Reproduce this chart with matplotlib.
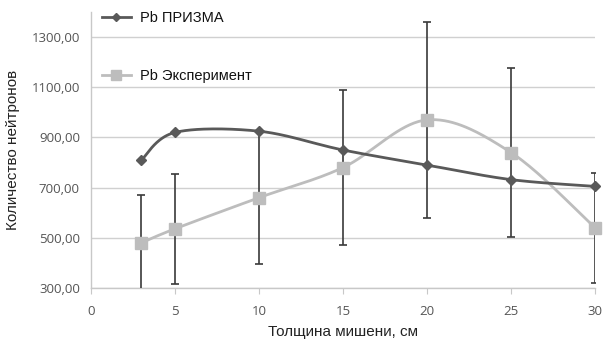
import numpy as np
import matplotlib
matplotlib.use("Agg")
import matplotlib.pyplot as plt
from matplotlib.lines import Line2D

# Data
thickness = [3, 5, 10, 15, 20, 25, 30]
prizma = [810, 920, 925, 850, 790, 732, 705]
experiment = [480, 536, 660, 780, 970, 840, 540]
exp_err = [190, 220, 265, 310, 390, 337, 220]
x_ticks = [0, 5, 10, 15, 20, 25, 30]
y_ticks = [300, 500, 700, 900, 1100, 1300]
y_tick_labels = ["300,00", "500,00", "700,00", "900,00", "1100,00", "1300,00"]
label_prizma = "Pb ПРИЗМА"
label_exp = "Pb Эксперимент"
xlabel = "Толщина мишени, см"
ylabel = "Количество нейтронов"

XMIN, XMAX, YMIN, YMAX = 0, 30, 300, 1400
SX, SY = 504.0 / (XMAX - XMIN), 276.0 / (YMAX - YMIN)


def smooth(xs, ys, n=40):
    # Excel-like smoothed line: cubic Bezier with Catmull-Rom style control points (in pixel space)
    P = np.column_stack([np.asarray(xs, float) * SX, np.asarray(ys, float) * SY])
    out = [P[0]]
    m = len(P)
    for i in range(m - 1):
        p0 = P[i - 1] if i > 0 else P[i]
        p1, p2 = P[i], P[i + 1]
        p3 = P[i + 2] if i + 2 < m else P[i + 1]
        c1 = p1 + (p2 - p0) / 6.0
        c2 = p2 - (p3 - p1) / 6.0
        t = np.linspace(0, 1, n)[1:, None]
        seg = (1 - t) ** 3 * p1 + 3 * (1 - t) ** 2 * t * c1 + 3 * (1 - t) * t ** 2 * c2 + t ** 3 * p2
        out.extend(seg)
    out = np.array(out)
    return out[:, 0] / SX, out[:, 1] / SY


DARK = "#595959"
LIGHT = "#BDBDBD"
ERR = "#3a3a3a"
GRID = "#D0D0D0"

fig = plt.figure(figsize=(6.08, 3.42), dpi=100)
ax = fig.add_axes([91 / 608, 1 - 288 / 342, 504 / 608, 276 / 342])

ax.set_xlim(XMIN, XMAX)
ax.set_ylim(YMIN, YMAX)
ax.set_yticks(y_ticks)
ax.set_yticklabels(y_tick_labels)
ax.set_xticks(x_ticks)
ax.grid(axis="y", color=GRID, linewidth=1.0)
ax.set_axisbelow(True)

for s in ["top", "right"]:
    ax.spines[s].set_visible(False)
for s in ["left", "bottom"]:
    ax.spines[s].set_color("#C8C8C8")
    ax.spines[s].set_linewidth(1.0)

ax.tick_params(axis="y", length=0, pad=8, labelsize=9.5, colors="#404040")
ax.tick_params(axis="x", length=4, pad=8, labelsize=9.5, colors="#404040", color="#C8C8C8", direction="out")
for lab in ax.get_xticklabels() + ax.get_yticklabels():
    lab.set_fontfamily("Open Sans")
    lab.set_color("#555555")

# Experiment smoothed line
sx, sy = smooth(thickness, experiment)
ax.plot(sx, sy, color=LIGHT, lw=2.0, zorder=3, clip_on=False)
# Prizma smoothed line
px, py = smooth(thickness, prizma)
ax.plot(px, py, color=DARK, lw=2.0, zorder=4, clip_on=False)

# Error bars (experiment)
ax.errorbar(thickness, experiment, yerr=exp_err, fmt="none", ecolor=ERR,
            elinewidth=1.2, capsize=3, capthick=1.2, zorder=5)

ax.plot(thickness, experiment, linestyle="none", marker="s", markersize=8,
        color=LIGHT, zorder=6, clip_on=False)
ax.plot(thickness, prizma, linestyle="none", marker="D", markersize=5,
        color=DARK, zorder=7, clip_on=False)

ax.set_xlabel(xlabel, fontsize=11, family="Liberation Sans", labelpad=5, color="#222222")
ax.set_ylabel(ylabel, fontsize=11, family="Liberation Sans", labelpad=8, color="#222222")

h1 = Line2D([], [], color=DARK, lw=2, marker="D", markersize=4)
h2 = Line2D([], [], color=LIGHT, lw=2, marker="s", markersize=7)
leg = ax.legend([h1, h2], [label_prizma, label_exp], loc="upper left",
                bbox_to_anchor=(-0.005, 1.05), frameon=False, labelspacing=3.0,
                handlelength=2.0, handletextpad=0.6,
                prop={"family": "Liberation Sans", "size": 10.5})
for t in leg.get_texts():
    t.set_color("#111111")

fig.savefig("out.png", dpi=100)
